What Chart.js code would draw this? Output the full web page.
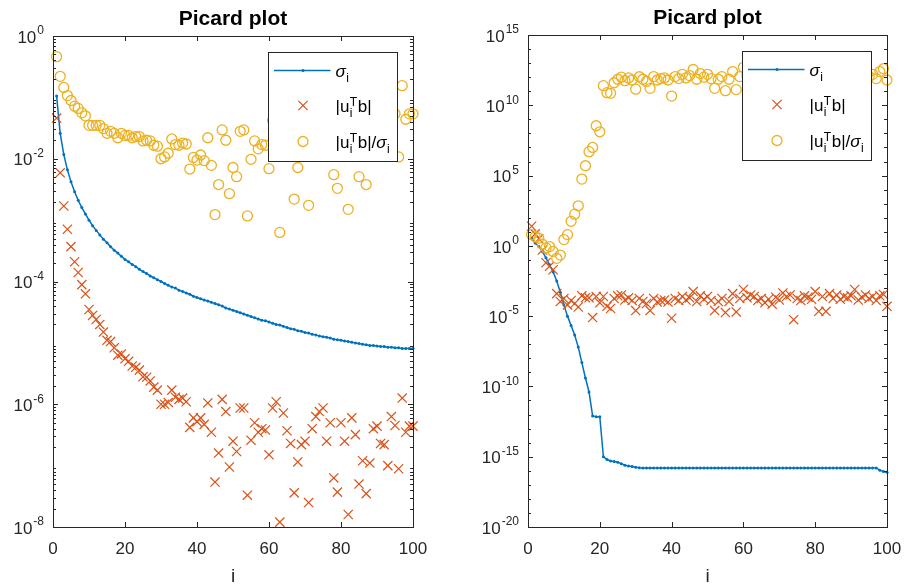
<!DOCTYPE html>
<html lang="en">
<head>
<meta charset="UTF-8">
<title>Picard plot</title>
<script src="https://cdn.jsdelivr.net/npm/chart.js"></script>
<style>
  html, body { margin: 0; padding: 0; background: #fff; }
  #wrap { position: relative; width: 905px; height: 588px; }
  canvas { position: absolute; top: 0; }
  #picardLeft { left: 0; }
  #picardRight { left: 455px; }
</style>
</head>
<body>
<div id="wrap">
  <canvas id="picardLeft" width="455" height="588"></canvas>
  <canvas id="picardRight" width="450" height="588"></canvas>
</div>
<script>
// index i = 1..100
const indexI = Array.from({ length: 100 }, (_, k) => k + 1);

// left panel
const leftSigma = [1.05e-1, 2.6e-2, 1.17e-2, 6.6e-3, 4.2e-3, 2.9e-3, 2.1e-3, 1.6e-3, 1.26e-3, 1.0e-3,
  8.1e-4, 6.8e-4, 5.75e-4, 4.9e-4, 4.27e-4, 3.7e-4, 3.24e-4, 2.9e-4, 2.57e-4, 2.29e-4,
  2.09e-4, 1.9e-4, 1.74e-4, 1.58e-4, 1.45e-4, 1.35e-4, 1.23e-4, 1.15e-4, 1.07e-4, 1.0e-4,
  9.3e-5, 8.7e-5, 8.1e-5, 7.8e-5, 7.2e-5, 6.9e-5, 6.5e-5, 6.2e-5, 5.75e-5, 5.5e-5,
  5.25e-5, 5.0e-5, 4.8e-5, 4.57e-5, 4.37e-5, 4.17e-5, 3.98e-5, 3.7e-5, 3.55e-5, 3.39e-5,
  3.24e-5, 3.09e-5, 2.95e-5, 2.82e-5, 2.69e-5, 2.57e-5, 2.45e-5, 2.34e-5, 2.29e-5, 2.19e-5,
  2.09e-5, 2.0e-5, 1.95e-5, 1.86e-5, 1.78e-5, 1.7e-5, 1.66e-5, 1.58e-5, 1.55e-5, 1.48e-5,
  1.45e-5, 1.38e-5, 1.35e-5, 1.29e-5, 1.26e-5, 1.23e-5, 1.2e-5, 1.15e-5, 1.12e-5, 1.1e-5,
  1.07e-5, 1.05e-5, 1.02e-5, 1.0e-5, 9.8e-6, 9.5e-6, 9.3e-6, 9.1e-6, 9.1e-6, 8.9e-6,
  8.7e-6, 8.7e-6, 8.5e-6, 8.5e-6, 8.3e-6, 8.3e-6, 8.1e-6, 8.1e-6, 8.1e-6, 8.1e-6];

const leftUtb = [4.6e-2, 5.9e-3, 1.7e-3, 7.1e-4, 3.7e-4, 2.1e-4, 1.4e-4, 8.9e-5, 6.3e-5, 3.5e-5,
  2.8e-5, 2.4e-5, 2.0e-5, 1.5e-5, 1.1e-5, 1.05e-5, 8.3e-6, 6.3e-6, 6.6e-6, 5.5e-6,
  5.0e-6, 4.2e-6, 4.0e-6, 3.6e-6, 2.8e-6, 2.75e-6, 2.4e-6, 1.9e-6, 1.7e-6, 1.0e-6,
  1.0e-6, 1.07e-6, 1.7e-6, 1.3e-6, 1.2e-6, 1.26e-6, 1.1e-6, 4.2e-7, 6.0e-7, 5.2e-7,
  6.0e-7, 4.7e-7, 1.05e-6, 3.5e-7, 5.4e-8, 1.6e-7, 1.2e-6, 7.6e-7, 9.5e-8, 2.5e-7,
  1.7e-7, 8.7e-7, 8.7e-7, 3.3e-8, 2.6e-7, 5.0e-7, 3.5e-7, 4.0e-7, 3.8e-7, 1.5e-7,
  8.7e-7, 1.1e-6, 1.2e-8, 7.2e-7, 3.7e-7, 2.3e-7, 3.6e-8, 1.15e-7, 2.2e-7, 2.5e-7,
  2.5e-8, 4.0e-7, 6.3e-7, 7.6e-7, 8.7e-7, 2.5e-7, 5.0e-7, 6.3e-8, 3.7e-8, 5.0e-7,
  2.5e-7, 1.6e-8, 6.0e-7, 3.2e-7, 5.0e-8, 1.2e-7, 3.5e-8, 1.1e-7, 4.0e-7, 4.4e-7,
  2.3e-7, 2.2e-7, 1.0e-7, 6.3e-7, 4.5e-7, 8.9e-8, 1.26e-6, 3.5e-7, 4.4e-7, 4.4e-7];

const leftRatio = [4.6e-1, 2.2e-1, 1.45e-1, 1.07e-1, 8.9e-2, 7.2e-2, 6.6e-2, 5.6e-2, 5.0e-2, 3.5e-2,
  3.5e-2, 3.5e-2, 3.5e-2, 3.1e-2, 2.6e-2, 2.8e-2, 2.6e-2, 2.2e-2, 2.6e-2, 2.4e-2,
  2.4e-2, 2.2e-2, 2.3e-2, 2.3e-2, 1.95e-2, 2.0e-2, 1.95e-2, 1.66e-2, 1.6e-2, 1.0e-2,
  1.07e-2, 1.23e-2, 2.1e-2, 1.7e-2, 1.66e-2, 1.8e-2, 1.74e-2, 6.8e-3, 1.05e-2, 9.5e-3,
  1.15e-2, 9.3e-3, 2.2e-2, 7.8e-3, 1.23e-3, 3.8e-3, 2.95e-2, 2.0e-2, 2.7e-3, 7.2e-3,
  5.1e-3, 2.8e-2, 2.95e-2, 1.17e-3, 9.8e-3, 1.95e-2, 1.45e-2, 1.7e-2, 1.66e-2, 6.9e-3,
  4.2e-2, 5.5e-2, 6.3e-4, 3.9e-2, 2.1e-2, 1.4e-2, 2.2e-3, 7.2e-3, 1.4e-2, 1.7e-2,
  1.74e-3, 2.9e-2, 4.7e-2, 5.9e-2, 6.9e-2, 2.0e-2, 4.2e-2, 5.5e-3, 3.3e-3, 4.6e-2,
  2.3e-2, 1.5e-3, 5.9e-2, 3.2e-2, 5.1e-3, 1.26e-2, 3.8e-3, 1.23e-2, 4.4e-2, 4.9e-2,
  2.7e-2, 2.5e-2, 1.17e-2, 7.4e-2, 5.4e-2, 1.07e-2, 1.55e-1, 4.4e-2, 5.4e-2, 5.4e-2];

// right panel
const rightSigma = [3.5e0, 1.6e0, 8.9e-1, 4.0e-1, 1.4e-1, 4.5e-2, 1.4e-2, 3.2e-3, 5.0e-4, 6.3e-5,
  1.0e-5, 2.2e-6, 4.5e-7, 6.3e-8, 5.0e-9, 4.0e-10, 4.0e-11, 7.9e-13, 7.1e-13, 7.1e-13,
  1.0e-15, 6.3e-16, 5.0e-16, 4.5e-16, 4.0e-16, 3.2e-16, 2.5e-16, 2.2e-16, 2.0e-16, 1.8e-16,
  1.66e-16, 1.6e-16, 1.6e-16, 1.6e-16, 1.6e-16, 1.6e-16, 1.6e-16, 1.6e-16, 1.6e-16, 1.6e-16,
  1.6e-16, 1.6e-16, 1.6e-16, 1.6e-16, 1.6e-16, 1.6e-16, 1.6e-16, 1.6e-16, 1.6e-16, 1.6e-16,
  1.6e-16, 1.6e-16, 1.6e-16, 1.6e-16, 1.6e-16, 1.6e-16, 1.6e-16, 1.6e-16, 1.6e-16, 1.6e-16,
  1.6e-16, 1.6e-16, 1.6e-16, 1.6e-16, 1.6e-16, 1.6e-16, 1.6e-16, 1.6e-16, 1.6e-16, 1.6e-16,
  1.6e-16, 1.6e-16, 1.6e-16, 1.6e-16, 1.6e-16, 1.6e-16, 1.6e-16, 1.6e-16, 1.6e-16, 1.6e-16,
  1.6e-16, 1.6e-16, 1.6e-16, 1.6e-16, 1.6e-16, 1.6e-16, 1.6e-16, 1.6e-16, 1.6e-16, 1.6e-16,
  1.6e-16, 1.6e-16, 1.6e-16, 1.6e-16, 1.6e-16, 1.6e-16, 1.6e-16, 1.1e-16, 8.9e-17, 7.9e-17];

const rightUtb = [2.5e1, 7.1e0, 3.2e0, 5.0e-1, 6.3e-2, 3.5e-2, 2.0e-2, 4.0e-4, 1.1e-4, 1.8e-4,
  6.3e-5, 1.3e-4, 7.9e-5, 4.5e-5, 2.8e-4, 2.0e-4, 2.0e-4, 7.9e-6, 2.5e-4, 8.9e-5,
  2.5e-4, 5.0e-5, 3.5e-5, 1.8e-4, 2.8e-4, 3.2e-4, 1.4e-4, 2.0e-4, 1.3e-4, 2.5e-5,
  1.8e-4, 1.1e-4, 7.9e-5, 2.5e-5, 1.8e-4, 1.0e-4, 1.3e-4, 1.4e-4, 1.0e-4, 7.1e-6,
  1.8e-4, 1.3e-4, 2.5e-4, 1.4e-4, 2.0e-4, 5.6e-4, 1.1e-4, 2.8e-4, 1.6e-4, 2.5e-4,
  1.3e-4, 2.5e-5, 1.1e-4, 1.8e-4, 1.8e-5, 1.1e-4, 4.0e-4, 2.0e-5, 1.8e-4, 7.9e-4,
  2.0e-4, 3.2e-4, 2.5e-4, 1.3e-4, 1.8e-4, 8.9e-5, 1.6e-4, 7.1e-5, 2.2e-4, 1.4e-4,
  4.5e-4, 2.5e-4, 3.2e-4, 5.6e-6, 1.8e-4, 1.3e-4, 2.8e-4, 2.2e-4, 1.6e-4, 5.6e-4,
  2.2e-5, 2.5e-4, 2.2e-5, 4.0e-4, 1.8e-4, 3.2e-4, 1.6e-4, 2.5e-4, 2.0e-4, 2.8e-4,
  7.9e-4, 1.4e-4, 2.2e-4, 3.2e-4, 1.8e-4, 2.5e-4, 1.3e-4, 2.8e-4, 3.5e-4, 5.0e-5];

const rightRatio = [6.3e0, 4.5e0, 3.5e0, 1.3e0, 7.1e-1, 8.9e-1, 4.0e-1, 1.3e-1, 2.2e-1, 2.8e0,
  6.3e0, 5.6e1, 1.8e2, 7.1e2, 5.6e4, 5.0e5, 5.0e6, 1.0e7, 3.5e8, 1.3e8,
  2.5e11, 7.9e10, 7.1e10, 4.0e11, 7.1e11, 1.0e12, 5.6e11, 8.9e11, 6.3e11, 1.4e11,
  1.07e12, 7.1e11, 5.0e11, 1.6e11, 1.1e12, 6.3e11, 7.9e11, 8.9e11, 6.3e11, 4.5e10,
  1.1e12, 7.9e11, 1.6e12, 8.9e11, 1.3e12, 3.5e12, 7.1e11, 1.8e12, 1.0e12, 1.6e12,
  7.9e11, 1.6e11, 7.1e11, 1.1e12, 1.1e11, 7.1e11, 2.5e12, 1.3e11, 1.1e12, 5.0e12,
  1.3e12, 2.0e12, 1.6e12, 7.9e11, 1.1e12, 5.6e11, 1.0e12, 4.5e11, 1.4e12, 8.9e11,
  2.8e12, 1.6e12, 2.0e12, 3.5e10, 1.1e12, 7.9e11, 1.8e12, 1.4e12, 1.0e12, 3.5e12,
  1.4e11, 1.6e12, 1.4e11, 2.5e12, 1.1e12, 2.0e12, 1.0e12, 1.6e12, 1.3e12, 1.8e12,
  5.0e12, 8.9e11, 1.4e12, 2.0e12, 1.1e12, 1.6e12, 7.9e11, 2.5e12, 4.0e12, 6.3e11];

// ticks
const xTicks = [0, 20, 40, 60, 80, 100];
const leftYExp = ['0', '-2', '-4', '-6', '-8'];
const rightYExp = ['15', '10', '5', '0', '-5', '-10', '-15', '-20'];

const BLUE = '#0072BD', ORANGE = '#D95319', YELLOW = '#EDB120';
const AXIS = '#262626';
const FONT = '"Liberation Sans", Arial, Helvetica, sans-serif';

function toXY(vals) {
    return indexI.map((i, k) => ({ x: i, y: vals[k] }));
}

function drawPow(ctx, xRight, y, exp) {
    ctx.font = `17px ${FONT}`;
    const wb = ctx.measureText('10').width;
    ctx.font = `12px ${FONT}`;
    const we = ctx.measureText(exp).width;
    const x0 = xRight - we - wb - 1;
    ctx.textAlign = 'left';
    ctx.textBaseline = 'middle';
    ctx.font = `17px ${FONT}`;
    ctx.fillText('10', x0, y + 2);
    ctx.font = `12px ${FONT}`;
    ctx.fillText(exp, x0 + wb + 1, y - 5);
}

// text with sub/superscripts, parts: {t, it} or {sub, sup}
function drawRich(ctx, x, yMid, parts) {
    ctx.textAlign = 'left';
    ctx.textBaseline = 'alphabetic';
    for (const p of parts) {
        if (p.t) {
            ctx.font = `${p.it ? 'italic ' : ''}17px ${FONT}`;
            ctx.fillText(p.t, x, yMid + 6);
            x += ctx.measureText(p.t).width;
        } else {
            ctx.font = `12px ${FONT}`;
            let w = 0;
            if (p.sub) { ctx.fillText(p.sub, x + 0.5, yMid + 11); w = Math.max(w, ctx.measureText(p.sub).width); }
            if (p.sup) { ctx.fillText(p.sup, x + 0.5, yMid); w = Math.max(w, ctx.measureText(p.sup).width); }
            x += w + 1;
        }
    }
}

const legendRows = [
    [{ t: 'σ', it: true }, { sub: 'i' }],
    [{ t: '|u' }, { sub: 'i', sup: 'T' }, { t: 'b|' }],
    [{ t: '|u' }, { sub: 'i', sup: 'T' }, { t: 'b|/' }, { t: 'σ', it: true }, { sub: 'i' }]
];

const matlabAxes = {
    id: 'matlabAxes',
    afterDatasetsDraw(chart, args, opts) {
        const ctx = chart.ctx, a = chart.chartArea;
        const xs = chart.scales.x, ys = chart.scales.y;
        ctx.save();

        // box
        ctx.strokeStyle = AXIS;
        ctx.lineWidth = 1;
        ctx.strokeRect(Math.round(a.left) + 0.5, Math.round(a.top) + 0.5,
            Math.round(a.right - a.left), Math.round(a.bottom - a.top));

        // x ticks
        ctx.beginPath();
        xTicks.forEach(v => {
            const px = Math.round(xs.getPixelForValue(v)) + 0.5;
            ctx.moveTo(px, a.bottom); ctx.lineTo(px, a.bottom - 5);
            ctx.moveTo(px, a.top); ctx.lineTo(px, a.top + 5);
        });
        // y major ticks
        opts.yExp.forEach(e => {
            const py = Math.round(ys.getPixelForValue(Number('1e' + e))) + 0.5;
            ctx.moveTo(a.left, py); ctx.lineTo(a.left + 5, py);
            ctx.moveTo(a.right, py); ctx.lineTo(a.right - 5, py);
        });
        // y minor ticks
        opts.minor.forEach(v => {
            const py = Math.round(ys.getPixelForValue(v)) + 0.5;
            ctx.moveTo(a.left, py); ctx.lineTo(a.left + 3, py);
            ctx.moveTo(a.right, py); ctx.lineTo(a.right - 3, py);
        });
        ctx.stroke();

        // tick labels
        ctx.fillStyle = AXIS;
        ctx.font = `17px ${FONT}`;
        ctx.textAlign = 'center';
        ctx.textBaseline = 'middle';
        xTicks.forEach(v => ctx.fillText(String(v), xs.getPixelForValue(v), a.bottom + 22));
        opts.yExp.forEach(e => drawPow(ctx, a.left - 9, ys.getPixelForValue(Number('1e' + e)), e));

        // axis label + title
        ctx.textAlign = 'center';
        ctx.textBaseline = 'middle';
        ctx.font = `19px ${FONT}`;
        ctx.fillText('i', (a.left + a.right) / 2, a.bottom + 50);
        ctx.fillStyle = '#000';
        ctx.font = `bold 21px ${FONT}`;
        ctx.textBaseline = 'alphabetic';
        ctx.fillText('Picard plot', (a.left + a.right) / 2, a.top - 11);

        // legend (northeast)
        const lw = 129, lh = 109;
        const L = Math.round(a.right - 16 - lw) + 0.5, T = Math.round(a.top + 16) + 0.5;
        ctx.fillStyle = '#fff';
        ctx.fillRect(L, T, lw, lh);
        ctx.strokeStyle = AXIS;
        ctx.strokeRect(L, T, lw, lh);
        const rows = [T + 18, T + 53, T + 89];
        const mx = L + 34.5;
        const ds = chart.data.datasets;
        // sigma
        ctx.strokeStyle = ds[0].borderColor;
        ctx.lineWidth = ds[0].borderWidth;
        ctx.beginPath(); ctx.moveTo(L + 5.5, rows[0]); ctx.lineTo(L + 62, rows[0]); ctx.stroke();
        ctx.fillStyle = ds[0].borderColor;
        ctx.beginPath(); ctx.arc(mx, rows[0], ds[0].pointRadius, 0, Math.PI * 2); ctx.fill();
        // cross
        const cr = ds[1].pointRadius * Math.SQRT1_2;
        ctx.strokeStyle = ds[1].borderColor;
        ctx.lineWidth = ds[1].pointBorderWidth;
        ctx.beginPath();
        ctx.moveTo(mx - cr, rows[1] - cr); ctx.lineTo(mx + cr, rows[1] + cr);
        ctx.moveTo(mx - cr, rows[1] + cr); ctx.lineTo(mx + cr, rows[1] - cr);
        ctx.stroke();
        // circle
        ctx.strokeStyle = ds[2].borderColor;
        ctx.lineWidth = ds[2].pointBorderWidth;
        ctx.beginPath(); ctx.arc(mx, rows[2], ds[2].pointRadius, 0, Math.PI * 2); ctx.stroke();

        ctx.fillStyle = '#000';
        legendRows.forEach((parts, k) => drawRich(ctx, L + 67, rows[k], parts));

        ctx.restore();
    }
};

function makeChart(id, sigma, utb, ratio, yMin, yMax, padding, yExp, minor) {
    return new Chart(document.getElementById(id), {
        type: 'scatter',
        data: {
            datasets: [
                {
                    label: 'sigma_i', data: toXY(sigma), showLine: true, tension: 0,
                    borderColor: BLUE, backgroundColor: BLUE, borderWidth: 1.5,
                    pointRadius: 1.5, pointBorderWidth: 0, pointStyle: 'circle',
                    order: 3, clip: false
                },
                {
                    label: '|u_i^T b|', data: toXY(utb), showLine: false,
                    borderColor: ORANGE, backgroundColor: 'rgba(0,0,0,0)', borderWidth: 1.2,
                    pointStyle: 'crossRot', pointRadius: 6.5, pointBorderWidth: 1.2,
                    order: 2, clip: false
                },
                {
                    label: '|u_i^T b|/sigma_i', data: toXY(ratio), showLine: false,
                    borderColor: YELLOW, backgroundColor: 'rgba(0,0,0,0)', borderWidth: 1.3,
                    pointStyle: 'circle', pointRadius: 5, pointBorderWidth: 1.3,
                    order: 1, clip: false
                }
            ]
        },
        options: {
            responsive: false,
            animation: false,
            devicePixelRatio: 1,
            events: [],
            layout: { padding: padding },
            scales: {
                x: { type: 'linear', min: 0, max: 100, display: false },
                y: { type: 'logarithmic', min: yMin, max: yMax, display: false }
            },
            plugins: {
                legend: { display: false },
                tooltip: { enabled: false },
                matlabAxes: { yExp: yExp, minor: minor }
            }
        },
        plugins: [matlabAxes]
    });
}

// minor tick positions
const leftMinor = [];
for (let k = -8; k < 0; k++) for (let m = 2; m <= 9; m++) leftMinor.push(m * Math.pow(10, k));
const rightMinor = [];
for (let k = -20; k <= 15; k++) if (k % 5 !== 0) rightMinor.push(Number('1e' + k));

makeChart('picardLeft', leftSigma, leftUtb, leftRatio, 1e-8, 1e0,
    { left: 53, right: 42, top: 36, bottom: 61 }, leftYExp, leftMinor);
makeChart('picardRight', rightSigma, rightUtb, rightRatio, 1e-20, 1e15,
    { left: 73, right: 18, top: 35, bottom: 61 }, rightYExp, rightMinor);
</script>
</body>
</html>
